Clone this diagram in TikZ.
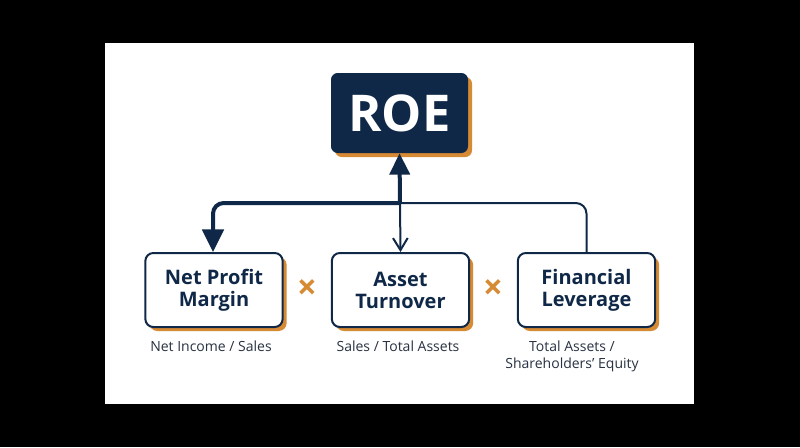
\documentclass[tikz,border=0pt]{standalone}
\usepackage{fontspec}
\setmainfont{Open Sans}
\usetikzlibrary{arrows.meta,shadows}

\definecolor{navy}{RGB}{16,40,72}
\definecolor{accent}{RGB}{214,138,52}
\definecolor{labelgray}{RGB}{40,50,66}

\tikzset{
  factor/.style={draw=navy, line width=1.5pt, fill=white, rounded corners=6pt,
    minimum width=103pt, minimum height=55.5pt, align=center, text=navy,
    font=\fontsize{15}{16.5}\selectfont\bfseries,
    drop shadow={fill=accent, opacity=1, shadow xshift=3pt, shadow yshift=-3pt}},
  formula/.style={text=labelgray, align=center, anchor=north, inner sep=0pt,
    font=\fontsize{10.5}{12.75}\selectfont},
  times/.style={text=accent, font=\fontsize{26}{26}\selectfont\bfseries},
}

\begin{document}
\begin{tikzpicture}[x=0.75pt,y=0.75pt,yscale=-1,xscale=1]
%set diagram to 800 x 447
\fill[black] (0,0) rectangle (800,447);
\useasboundingbox (0,0) rectangle (800,447);

%Shape: white panel
\fill[white] (105,43) rectangle (694,404);

% ROE node
\node[fill=navy, rounded corners=5pt, minimum width=102.75pt, minimum height=60pt,
  text=white, font=\fontsize{38}{38}\selectfont\bfseries,
  drop shadow={fill=accent, opacity=1, shadow xshift=3pt, shadow yshift=-3pt}]
  (roe) at (399.5,113) {ROE};

% Factor nodes
\node[factor] (npm) at (214,290) {Net Profit\\Margin};
\node[factor] (at) at (400.5,290) {Asset\\Turnover};
\node[factor] (fl) at (586.5,290) {Financial\\Leverage};

% Multiplication signs
\node[times] (x1) at (307,290) {×};
\node[times] (x2) at (493,290) {×};

% Formula labels
\node[formula] (npmf) at (211,341) {Net Income / Sales};
\node[formula] (atf) at (398,341) {Sales / Total Assets};
\node[formula] (flf) at (572,341) {Total Assets /\\Shareholders’ Equity};

% Connectors
\coordinate (hub) at (400,203);
\draw[navy, line width=3pt, -{Triangle[length=16pt,width=15pt]}] (hub) -- (roe.south);
\draw[navy, line width=3pt, rounded corners=8pt, -{Triangle[length=17pt,width=16pt]}]
  (hub) -| (npm.north -| 213,0);
\draw[navy, line width=1.5pt, -{Straight Barb[length=9pt,width=11pt]}] (hub) -- (at.north);
\draw[navy, line width=1.5pt, rounded corners=8pt] (hub) -| (fl.north);

\end{tikzpicture}
\end{document}
